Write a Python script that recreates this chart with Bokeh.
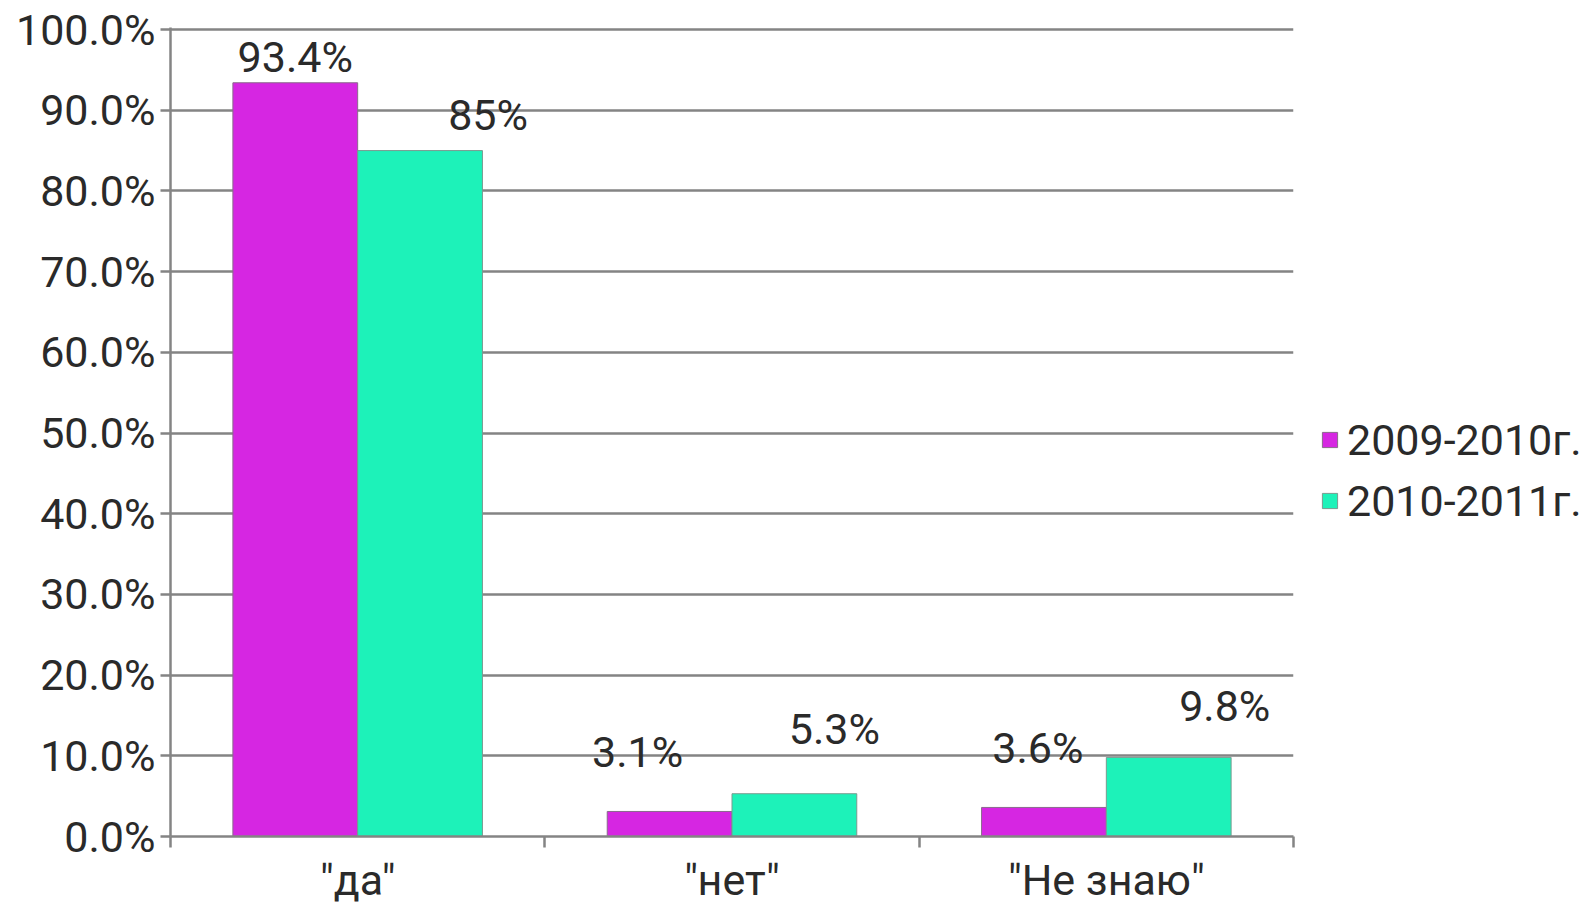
from bokeh.plotting import figure
from bokeh.models import (ColumnDataSource, FixedTicker, PrintfTickFormatter,
                          Legend, LegendItem, Range1d)
from bokeh.transform import dodge
from bokeh.core.properties import value
from bokeh.embed import file_html
from bokeh.resources import INLINE

# ---- data ----
categories = ['"да"', '"нет"', '"Не знаю"']
series_names = ["2009-2010г.", "2010-2011г."]
values_2009 = [93.4, 3.1, 3.6]
values_2010 = [85.0, 5.3, 9.8]
labels_2009 = ["93.4%", "3.1%", "3.6%"]
labels_2010 = ["85%", "5.3%", "9.8%"]
y_ticks = [0, 10, 20, 30, 40, 50, 60, 70, 80, 90, 100]

# ---- label placement (pixel offsets) ----
label_dx_2009 = [0, -32, -6]
label_dy_2009 = [26, 59, 59]
label_dx_2010 = [68, 40, 56]
label_dy_2010 = [36, 65, 51]

# ---- styles ----
C_MAG = "#D626E2"
C_TEAL = "#1DF2B9"
GRID = "#848484"
TXT = "#2a2a2a"
FONT = "Roboto"
FS = "43px"

n = len(categories)
centers = [i + 0.5 for i in range(n)]
src = ColumnDataSource(dict(
    x=centers,
    v1=values_2009, v2=values_2010,
    l1=labels_2009, l2=labels_2010,
    dx1=label_dx_2009, dy1=[-d for d in label_dy_2009],
    dx2=label_dx_2010, dy2=[-d for d in label_dy_2010],
))

p = figure(frame_width=1123, frame_height=809,
           min_border_left=170, min_border_right=287,
           min_border_top=27, min_border_bottom=64,
           x_range=Range1d(0, n), y_range=Range1d(0, 100.25),
           output_backend="svg", toolbar_location=None)
p.outline_line_color = None
p.background_fill_color = "white"
p.border_fill_color = "white"

# bars
r1 = p.vbar(x=dodge("x", -1/6), top="v1", width=1/3, source=src,
            fill_color=C_MAG, line_color="#8a6a8c", line_width=1)
r2 = p.vbar(x=dodge("x", 1/6), top="v2", width=1/3, source=src,
            fill_color=C_TEAL, line_color="#7a9a90", line_width=1)

# data labels
p.text(x=dodge("x", -1/6), y="v1", text="l1", x_offset="dx1", y_offset="dy1",
       source=src, text_font=value(FONT), text_font_size=FS, text_color=TXT,
       text_align="center", text_baseline="alphabetic")
p.text(x=dodge("x", 1/6), y="v2", text="l2", x_offset="dx2", y_offset="dy2",
       source=src, text_font=value(FONT), text_font_size=FS, text_color=TXT,
       text_align="center", text_baseline="alphabetic")

# y axis
yax = p.yaxis[0]
yax.ticker = FixedTicker(ticks=y_ticks)
yax.formatter = PrintfTickFormatter(format="%.1f%%")
yax.axis_line_color = GRID
yax.axis_line_width = 2.5
yax.major_tick_line_color = GRID
yax.major_tick_line_width = 2.5
yax.major_tick_in = 0
yax.major_tick_out = 10
yax.minor_tick_line_color = None
yax.major_label_standoff = 5
yax.major_label_text_font = FONT
yax.major_label_text_font_size = FS
yax.major_label_text_color = TXT

# x axis: labels at category centers, ticks at boundaries
xax = p.xaxis[0]
xax.ticker = FixedTicker(ticks=centers, minor_ticks=list(range(n + 1)))
xax.major_label_overrides = {c: lab for c, lab in zip(centers, categories)}
xax.axis_line_color = GRID
xax.axis_line_width = 2.5
xax.major_tick_line_color = None
xax.major_tick_in = 0
xax.major_tick_out = 0
xax.minor_tick_line_color = GRID
xax.minor_tick_line_width = 2.5
xax.minor_tick_in = 0
xax.minor_tick_out = 11
xax.major_label_standoff = 7
xax.major_label_text_font = FONT
xax.major_label_text_font_size = FS
xax.major_label_text_color = TXT

# grid
p.xgrid.visible = False
p.ygrid.ticker = FixedTicker(ticks=y_ticks)
p.ygrid.grid_line_color = GRID
p.ygrid.grid_line_width = 2.5

# legend (in the right-hand panel)
legend = Legend(items=[LegendItem(label=series_names[0], renderers=[r1]),
                       LegendItem(label=series_names[1], renderers=[r2])],
                location=(27, 305))
legend.padding = 0
legend.margin = 0
legend.spacing = 0
legend.glyph_width = 19
legend.glyph_height = 19
legend.label_height = 61
legend.label_standoff = 8
legend.label_text_font = FONT
legend.label_text_font_size = FS
legend.label_text_color = TXT
legend.border_line_color = None
legend.background_fill_alpha = 0
p.add_layout(legend, "right")

open("out.html", "w").write(file_html(p, INLINE))
